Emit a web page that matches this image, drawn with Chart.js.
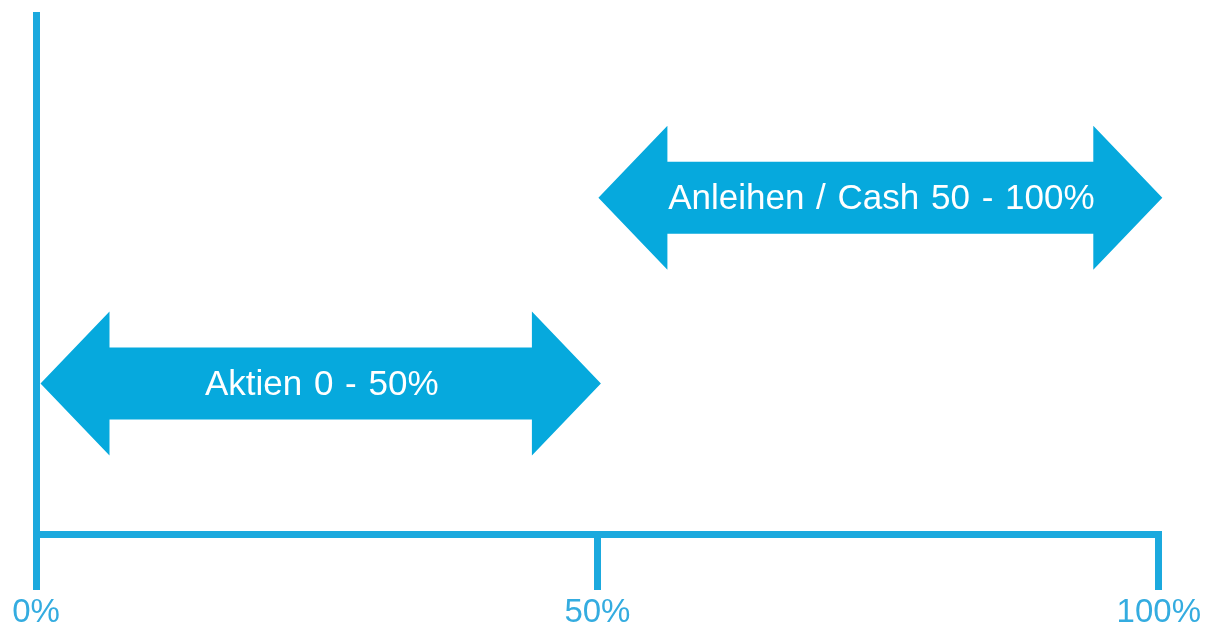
<!DOCTYPE html>
<html>
<head>
<meta charset="utf-8">
<script src="https://cdn.jsdelivr.net/npm/chart.js@4/dist/chart.umd.min.js"></script>
<style>
  html, body { margin: 0; padding: 0; background: #fff; }
  canvas { display: block; }
</style>
</head>
<body>
<canvas id="chart" width="1207" height="628"></canvas>
<script>
// allocation ranges, one arrow per row
const labels = ['Aktien 0 - 50%', 'Anleihen / Cash 50 - 100%']
const rangeStart = [0, 50]
const rangeEnd = [50, 100]
const rows = [1, 2]
const xTicks = [0, 50, 100]

const arrowColor = '#06a9dd'
const axisColor = '#1ba9de'

// draws each floating bar as a double headed arrow with its label inside
const arrowPlugin = {
  id: 'arrows',
  afterDatasetsDraw(chart) {
    const ctx = chart.ctx
    const meta = chart.getDatasetMeta(0)
    meta.data.forEach((bar, i) => {
      const p = bar.getProps(['x', 'y', 'base', 'height'], true)
      const left = Math.min(p.x, p.base) + 1
      const right = Math.max(p.x, p.base) + 3.5
      const half = p.height / 2
      const shaft = half / 2
      const head = 69
      const cy = p.y
      ctx.save()
      ctx.fillStyle = arrowColor
      ctx.beginPath()
      ctx.moveTo(left, cy)
      ctx.lineTo(left + head, cy - half)
      ctx.lineTo(left + head, cy - shaft)
      ctx.lineTo(right - head, cy - shaft)
      ctx.lineTo(right - head, cy - half)
      ctx.lineTo(right, cy)
      ctx.lineTo(right - head, cy + half)
      ctx.lineTo(right - head, cy + shaft)
      ctx.lineTo(left + head, cy + shaft)
      ctx.lineTo(left + head, cy + half)
      ctx.closePath()
      ctx.fill()
      ctx.fillStyle = '#ffffff'
      ctx.font = '35px "Liberation Sans", Arial, sans-serif'
      ctx.wordSpacing = '2px'
      ctx.textAlign = 'center'
      ctx.textBaseline = 'middle'
      ctx.fillText(labels[i], (left + right) / 2 + 1, cy + 2)
      ctx.restore()
    })
  },
}

new Chart(document.getElementById('chart'), {
  type: 'bar',
  data: {
    labels: labels,
    datasets: [{
      data: rows.map((r, i) => ({ x: [rangeStart[i], rangeEnd[i]], y: r })),
      backgroundColor: 'rgba(0,0,0,0)',
      borderWidth: 0,
      barThickness: 144,
    }],
  },
  options: {
    indexAxis: 'y',
    responsive: false,
    animation: false,
    layout: { padding: { top: 12, left: 36, right: 48, bottom: -7 } },
    plugins: {
      legend: { display: false },
      tooltip: { enabled: false },
    },
    scales: {
      x: {
        type: 'linear',
        min: 0,
        max: 100,
        afterBuildTicks: (scale) => {
          scale.ticks = xTicks.map(v => ({ value: v }))
        },
        border: { color: axisColor, width: 7 },
        grid: {
          drawOnChartArea: true,
          drawTicks: true,
          tickLength: 56,
          lineWidth: 7,
          tickWidth: 7,
          // the 0% gridline doubles as the vertical axis
          color: (c) => (c.tick && c.tick.value === 0 ? axisColor : 'rgba(0,0,0,0)'),
          tickColor: axisColor,
        },
        ticks: {
          color: '#34ace0',
          padding: 6,
          maxRotation: 0,
          font: { family: '"Liberation Sans", Arial, sans-serif', size: 33, lineHeight: 1 },
          callback: (v) => v + '%',
        },
      },
      y: {
        type: 'linear',
        display: false,
        offset: false,
        min: 0.19,
        max: 3.0,
      },
    },
  },
  plugins: [arrowPlugin],
})
</script>
</body>
</html>
